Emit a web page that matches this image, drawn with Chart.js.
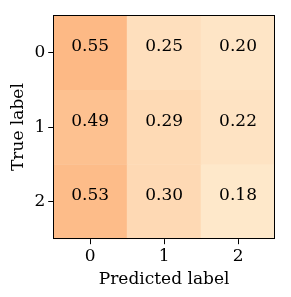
<!DOCTYPE html>
<html>
<head>
<meta charset="utf-8">
<script src="https://cdn.jsdelivr.net/npm/chart.js@4.4.0/dist/chart.umd.min.js"></script>
<style>
  body { margin: 0; background: #fff; }
  canvas { display: block; }
</style>
</head>
<body>
<canvas id="cm" width="291" height="297"></canvas>
<script>
// confusion matrix values, rows = true label, columns = predicted label
const predictedLabels = ['0', '1', '2'];
const trueLabels = ['0', '1', '2'];
const row0 = [0.55, 0.25, 0.20];
const row1 = [0.49, 0.29, 0.22];
const row2 = [0.53, 0.30, 0.18];
const rows = [row0, row1, row2];

// light orange ramp
function cellColor(v) {
  const lo = [254, 232, 202], hi = [253, 185, 133];
  const t = Math.max(0, Math.min(1, (v - 0.18) / (0.55 - 0.18)));
  const c = lo.map((a, i) => Math.round(a + (hi[i] - a) * t));
  return 'rgb(' + c.join(',') + ')';
}

const FONT = "'DejaVu Serif', serif";

const cellText = {
  id: 'cellText',
  afterDatasetsDraw(chart) {
    const ctx = chart.ctx;
    ctx.save();
    ctx.fillStyle = '#000';
    ctx.font = '17px ' + FONT;
    ctx.textAlign = 'center';
    ctx.textBaseline = 'middle';
    chart.data.datasets.forEach((ds, di) => {
      chart.getDatasetMeta(di).data.forEach((bar, i) => {
        // numbers sit a bit above the cell centre in the original
        const y = (bar.y + bar.base) / 2 - 6;
        ctx.fillText(rows[di][i].toFixed(2), bar.x, y);
      });
    });
    const a = chart.chartArea;
    ctx.strokeStyle = '#000';
    ctx.lineWidth = 1;
    ctx.strokeRect(Math.round(a.left) + 0.5, Math.round(a.top) + 0.5,
      Math.round(a.right - a.left) - 1, Math.round(a.bottom - a.top) - 1);
    ctx.restore();
  }
};

new Chart(document.getElementById('cm'), {
  type: 'bar',
  data: {
    labels: predictedLabels,
    datasets: rows.map((r, ri) => ({
      data: r.map(() => [ri - 0.5, ri + 0.5]),
      backgroundColor: r.map(cellColor),
      borderWidth: 0,
      barPercentage: 1,
      categoryPercentage: 1,
      grouped: false
    }))
  },
  options: {
    responsive: false,
    animation: false,
    layout: { padding: { top: 15, right: 16, left: 5, bottom: 2 } },
    plugins: { legend: { display: false }, tooltip: { enabled: false } },
    scales: {
      x: {
        offset: true,
        grid: { drawOnChartArea: false, offset: false, color: '#000', tickLength: 5 },
        border: { display: false },
        ticks: { color: '#000', font: { family: FONT, size: 17 }, padding: 2 },
        title: { display: true, text: 'Predicted label', color: '#000', font: { family: FONT, size: 17 }, padding: { top: 1, bottom: 5 } }
      },
      y: {
        type: 'linear',
        reverse: true,
        min: -0.5,
        max: 2.5,
        afterBuildTicks(s) { s.ticks = trueLabels.map((t, i) => ({ value: i })); },
        grid: { drawOnChartArea: false, color: '#000', tickLength: 5 },
        border: { display: false },
        ticks: { color: '#000', font: { family: FONT, size: 17 }, padding: 3, callback: (v) => trueLabels[v] },
        title: { display: true, text: 'True label', color: '#000', font: { family: FONT, size: 17 }, padding: 3 }
      }
    }
  },
  plugins: [cellText]
});
</script>
</body>
</html>
